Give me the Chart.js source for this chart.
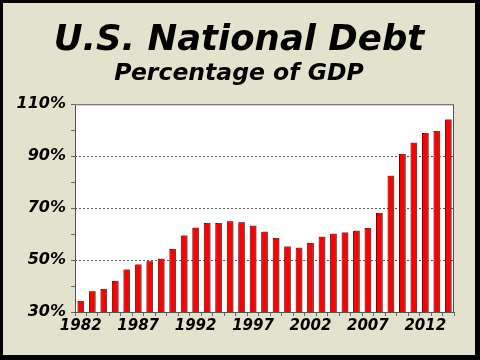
<!DOCTYPE html>
<html>
<head>
<meta charset="utf-8">
<script src="https://cdn.jsdelivr.net/npm/chart.js@4/dist/chart.umd.min.js"></script>
<style>
html,body{margin:0;padding:0;background:#fff;}
.marco{width:480px;height:360px;box-sizing:border-box;border-style:solid;border-color:#000;border-width:3px 5px 5px 3px;background:#e3e3cd;}
canvas{display:block;}
</style>
</head>
<body>
<div class="marco"><canvas id="grafica" width="472" height="352"></canvas></div>
<script>
//datos
const anios=[1982,1983,1984,1985,1986,1987,1988,1989,1990,1991,1992,1993,1994,1995,1996,1997,1998,
             1999,2000,2001,2002,2003,2004,2005,2006,2007,2008,2009,2010,2011,2012,2013,2014];
const deudaPib=[34.2,38.0,38.9,41.9,46.4,48.3,49.5,50.5,54.3,59.5,62.4,64.3,64.3,64.9,64.6,63.2,60.9,
                58.5,55.2,54.7,56.6,59.0,60.1,60.6,61.3,62.3,68.1,82.5,90.8,95.2,98.9,99.7,104.1];
const marcasY=[30,50,70,90,110];
const aniosEtiqueta=[1982,1987,1992,1997,2002,2007,2012];

const fuente='"DejaVu Sans", Verdana, sans-serif';

//fondo blanco y marco gris del area del grafico
const fondoPlot={
  id:'fondoPlot',
  beforeDraw(chart){
    const a=chart.chartArea;
    chart.ctx.save();
    chart.ctx.fillStyle='#fff';
    chart.ctx.fillRect(a.left,a.top,a.right-a.left,a.bottom-a.top);
    chart.ctx.restore();
  },
  beforeDatasetsDraw(chart){
    const a=chart.chartArea;
    const ctx=chart.ctx;
    ctx.save();
    ctx.strokeStyle='#555';
    ctx.lineWidth=1;
    ctx.strokeRect(a.left+0.5,a.top+0.5,a.right-a.left-1,a.bottom-a.top);
    ctx.restore();
  }
};
//sombra gris de las barras
const sombra={
  id:'sombra',
  beforeDatasetDraw(chart){
    chart.ctx.save();
    chart.ctx.shadowColor='rgba(90,90,90,0.8)';
    chart.ctx.shadowOffsetX=1;
    chart.ctx.shadowOffsetY=-1;
  },
  afterDatasetDraw(chart){
    chart.ctx.restore();
  }
};

new Chart(document.getElementById('grafica'),{
  type:'bar',
  data:{
    labels:anios,
    datasets:[{
      data:deudaPib,
      backgroundColor:'#ff0000',
      borderColor:'#6a0000',
      borderWidth:1,
      borderSkipped:'bottom',
      barPercentage:0.58,
      categoryPercentage:1
    }]
  },
  options:{
    responsive:false,
    animation:false,
    devicePixelRatio:1,
    layout:{padding:{left:0,right:0,bottom:19,top:0}},
    plugins:{
      legend:{display:false},
      tooltip:{enabled:false},
      title:{
        display:true,
        text:'U.S. National Debt',
        color:'#000',
        font:{family:fuente,size:35.5,weight:'bold',style:'italic',lineHeight:1.1},
        padding:{top:18,bottom:0}
      },
      subtitle:{
        display:true,
        text:'Percentage of GDP',
        color:'#000',
        font:{family:fuente,size:23.5,weight:'bold',style:'italic',lineHeight:1.2},
        padding:{top:0,bottom:16}
      }
    },
    scales:{
      x:{
        offset:true,
        grid:{display:true,offset:true,drawOnChartArea:false,drawTicks:true,tickLength:4,tickColor:'#666'},
        border:{display:false},
        ticks:{
          autoSkip:false,maxRotation:0,minRotation:0,padding:1,color:'#000',
          font:{family:fuente,size:15,weight:'bold',style:'italic'},
          callback:function(v,i){ return aniosEtiqueta.includes(anios[i]) ? String(anios[i]) : ''; }
        }
      },
      y:{
        min:30,max:110,
        afterFit:function(s){ s.width=72; },
        border:{display:false,dash:[2,2]},
        grid:{
          color:function(c){ return [50,70,90].includes(c.tick.value) ? '#555' : 'rgba(0,0,0,0)'; },
          tickColor:'#666',tickLength:4,lineWidth:1
        },
        ticks:{
          stepSize:10,padding:5,color:'#000',
          font:{family:fuente,size:16,weight:'bold',style:'italic'},
          callback:function(v){ return marcasY.includes(v) ? v+'%' : ''; }
        }
      },
      //eje vacio a la derecha, solo deja el margen
      derecha:{
        position:'right',
        min:30,max:110,
        afterFit:function(s){ s.width=21; },
        grid:{display:false},
        border:{display:false},
        ticks:{display:false}
      }
    }
  },
  plugins:[fondoPlot,sombra]
});
</script>
</body>
</html>
